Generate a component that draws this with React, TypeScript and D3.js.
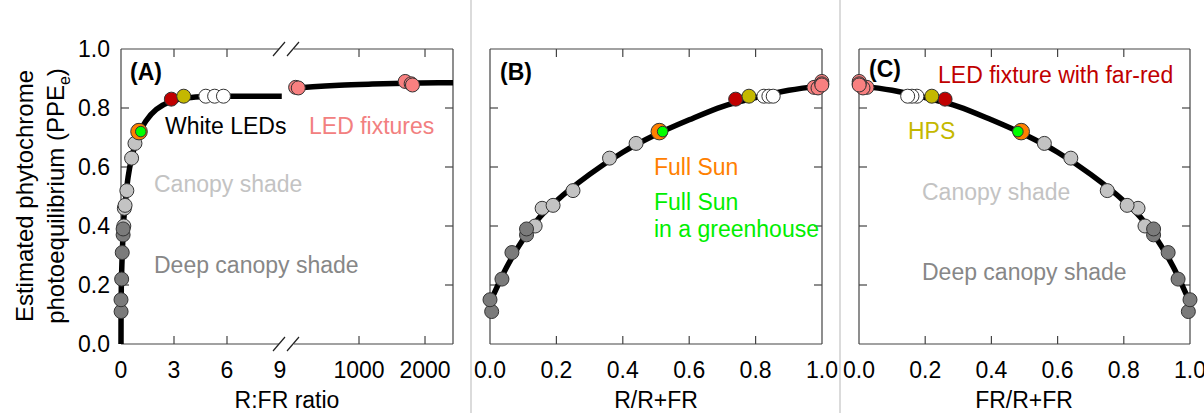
import React from "react";
import * as d3 from "d3";

// ---------- data ----------
// Light sources: PPE, R:FR ratio, R/(R+FR) fraction
const lightShadePPE = [0.40, 0.46, 0.47, 0.52, 0.63, 0.68];
const lightShadeRFR = [0.16, 0.19, 0.23, 0.33, 0.6, 0.79];
const lightShadeRfrac = [0.136, 0.157, 0.19, 0.25, 0.36, 0.44];

const deepShadePPE = [0.11, 0.15, 0.22, 0.31, 0.37, 0.39];
const deepShadeRFR = [0.005, 0.0, 0.037, 0.07, 0.12, 0.12];
const deepShadeRfrac = [0.005, 0.0, 0.036, 0.066, 0.11, 0.11];

const sunPPE = [0.72];
const sunRFR = [1.02];
const sunRfrac = [0.51];

const greenhousePPE = [0.72];
const greenhouseRFR = [1.12];
const greenhouseRfrac = [0.52];

const ledFixturePPE = [0.87, 0.868, 0.89, 0.882, 0.878];
const ledFixtureRFR = [40, 80, 1700, 1790, 1810];
const ledFixtureRfrac = [0.976, 0.988, 0.9994, 0.9995, 0.9995];

const whiteLedPPE = [0.84, 0.84, 0.84];
const whiteLedRFR = [4.8, 5.3, 5.8];
const whiteLedRfrac = [0.825, 0.84, 0.853];

const farRedPPE = [0.83];
const farRedRFR = [2.85];
const farRedRfrac = [0.74];

const hpsPPE = [0.84];
const hpsRFR = [3.55];
const hpsRfrac = [0.78];

// fitted curves
const curveALeftRFR = [0, 0.005, 0.02, 0.05, 0.1, 0.18, 0.28, 0.4, 0.6, 0.8, 1.0, 1.4, 2.0, 2.8, 3.6, 4.5, 6.0, 9.1];
const curveALeftPPE = [0, 0.12, 0.2, 0.27, 0.35, 0.44, 0.5, 0.565, 0.63, 0.675, 0.71, 0.755, 0.795, 0.822, 0.833, 0.838, 0.84, 0.84];
const curveARightRFR = [60, 300, 700, 1200, 1700, 2200, 2424];
const curveARightPPE = [0.868, 0.872, 0.877, 0.881, 0.884, 0.886, 0.886];
const curveBRfrac = [0, 0.05, 0.1, 0.15, 0.2, 0.3, 0.4, 0.5, 0.6, 0.7, 0.8, 0.9, 1.0];
const curveBPPE = [0.14, 0.26, 0.355, 0.43, 0.485, 0.575, 0.65, 0.71, 0.76, 0.805, 0.835, 0.86, 0.875];

const yTicks = [0, 0.2, 0.4, 0.6, 0.8, 1.0];
const fracTicks = [0, 0.2, 0.4, 0.6, 0.8, 1.0];
const rfrLeftTicks = [0, 3, 6, 9];
const rfrRightTicks = [1000, 2000];

// ---------- styles ----------
const FONT = "'Liberation Sans', Arial, Helvetica, sans-serif";
const FS = 23;
const frameColor = "#444";

type Group = {
  ppe: number[];
  rfr: number[];
  rfrac: number[];
  fill: string;
  r: number;
};

const groups: Group[] = [
  { ppe: lightShadePPE, rfr: lightShadeRFR, rfrac: lightShadeRfrac, fill: "#c3c3c3", r: 7 },
  { ppe: deepShadePPE, rfr: deepShadeRFR, rfrac: deepShadeRfrac, fill: "#7b7b7b", r: 7 },
  { ppe: sunPPE, rfr: sunRFR, rfrac: sunRfrac, fill: "#ff8000", r: 8.3 },
  { ppe: greenhousePPE, rfr: greenhouseRFR, rfrac: greenhouseRfrac, fill: "#00ff00", r: 5.3 },
  { ppe: ledFixturePPE, rfr: ledFixtureRFR, rfrac: ledFixtureRfrac, fill: "#f88080", r: 7 },
  { ppe: whiteLedPPE, rfr: whiteLedRFR, rfrac: whiteLedRfrac, fill: "#ffffff", r: 7 },
  { ppe: farRedPPE, rfr: farRedRFR, rfrac: farRedRfrac, fill: "#c00000", r: 7 },
  { ppe: hpsPPE, rfr: hpsRFR, rfrac: hpsRfrac, fill: "#c4b800", r: 7 },
];

// ---------- scales ----------
const top = 49;
const bottom = 344;
const y = d3.scaleLinear().domain([0, 1]).range([bottom, top]);

const axL = 121, axBreakL = 280, axBreakR = 293, axR = 453;
const xALeft = d3.scaleLinear().domain([0, 9]).range([axL, axBreakL]);
const xARight = d3.scaleLinear().domain([0, 2424]).range([axBreakR, axR]);
const xA = (v: number) => (v <= 9.5 ? xALeft(v) : xARight(v));

const bL = 490, bR = 822;
const xB = d3.scaleLinear().domain([0, 1]).range([bL, bR]);
const cL = 859, cR = 1190;
const xC = d3.scaleLinear().domain([0, 1]).range([cL, cR]);

const TICK = 8;

function Frame({ x0, x1, xs, broken }: { x0: number; x1: number; xs: number[]; broken?: boolean }) {
  const els: React.ReactNode[] = [];
  if (broken) {
    els.push(<line key="t1" x1={x0} x2={axBreakL - 1} y1={top} y2={top} />);
    els.push(<line key="t2" x1={axBreakR + 1} x2={x1} y1={top} y2={top} />);
    els.push(<line key="b1" x1={x0} x2={axBreakL - 1} y1={bottom} y2={bottom} />);
    els.push(<line key="b2" x1={axBreakR + 1} x2={x1} y1={bottom} y2={bottom} />);
  } else {
    els.push(<line key="t" x1={x0} x2={x1} y1={top} y2={top} />);
    els.push(<line key="b" x1={x0} x2={x1} y1={bottom} y2={bottom} />);
  }
  els.push(<line key="l" x1={x0} x2={x0} y1={top} y2={bottom} />);
  els.push(<line key="r" x1={x1} x2={x1} y1={top} y2={bottom} />);
  yTicks.slice(1, -1).forEach((t, i) => {
    els.push(<line key={"yl" + i} x1={x0} x2={x0 + TICK} y1={y(t)} y2={y(t)} />);
    els.push(<line key={"yr" + i} x1={x1} x2={x1 - TICK} y1={y(t)} y2={y(t)} />);
  });
  xs.forEach((xx, i) => {
    els.push(<line key={"xt" + i} x1={xx} x2={xx} y1={top} y2={top + TICK} />);
    els.push(<line key={"xb" + i} x1={xx} x2={xx} y1={bottom} y2={bottom - TICK} />);
  });
  if (broken) {
    [top, bottom].forEach((yy, j) => {
      [axBreakL - 1, axBreakR].forEach((cx, k) => {
        els.push(
          <line key={"br" + j + k} x1={cx - 6} x2={cx + 6} y1={yy + 7} y2={yy - 7} stroke="#222" />
        );
      });
    });
  }
  return (
    <g stroke={frameColor} strokeWidth={1.2} fill="none">
      {els}
    </g>
  );
}

function Points({ xf }: { xf: (g: Group, i: number) => number }) {
  return (
    <g>
      {groups.map((g, gi) =>
        g.ppe.map((p, i) => (
          <circle
            key={gi + "-" + i}
            cx={xf(g, i)}
            cy={y(p)}
            r={g.r}
            fill={g.fill}
            stroke="#333"
            strokeWidth={1}
          />
        ))
      )}
    </g>
  );
}

const T = (props: any) => (
  <text fontFamily={FONT} fontSize={FS} {...props} />
);

export default function App() {
  const lineA = d3
    .line<number>()
    .x((_, i) => xALeft(curveALeftRFR[i]))
    .y((d) => y(d))
    .curve(d3.curveCatmullRom.alpha(0.5));
  const lineARight = d3
    .line<number>()
    .x((_, i) => xARight(curveARightRFR[i]))
    .y((d) => y(d))
    .curve(d3.curveMonotoneX);
  const lineB = d3
    .line<number>()
    .x((_, i) => xB(curveBRfrac[i]))
    .y((d) => y(d))
    .curve(d3.curveMonotoneX);
  const cPts = curveBRfrac.map((f, i) => [1 - f, curveBPPE[i]] as [number, number]).reverse();
  const lineC = d3
    .line<[number, number]>()
    .x((d) => xC(d[0]))
    .y((d) => y(d[1]))
    .curve(d3.curveMonotoneX);

  const curveStyle = { fill: "none", stroke: "#000", strokeWidth: 5.5, strokeLinecap: "butt" as const };

  return (
    <svg
      width={1204}
      height={413}
      style={{ position: "absolute", left: 0, top: 0, background: "#fff" }}
    >
      <rect x={0} y={0} width={1204} height={413} fill="#fff" />
      {/* separators */}
      <line x1={471} x2={471} y1={0} y2={413} stroke="#cfcfcf" strokeWidth={1.5} />
      <line x1={840} x2={840} y1={0} y2={413} stroke="#cfcfcf" strokeWidth={1.5} />

      {/* y axis title */}
      <T transform="translate(33,196) rotate(-90)" textAnchor="middle" fontSize={24}>
        Estimated phytochrome
      </T>
      <T transform="translate(64,196) rotate(-90)" textAnchor="middle" fontSize={24}>
        photoequilibrium (PPE
        <tspan fontSize={16} dy={6}>e</tspan>
        <tspan dy={-6}>)</tspan>
      </T>

      {/* y tick labels */}
      {yTicks.map((t) => (
        <T key={t} x={110} y={y(t) + 8} textAnchor="end">
          {d3.format(".1f")(t)}
        </T>
      ))}

      {/* ---------- Panel A ---------- */}
      <Frame x0={axL} x1={axR} xs={[xALeft(3), xALeft(6), ...rfrRightTicks.map((t) => xARight(t))]} broken />
      <path d={lineA(curveALeftPPE) || ""} style={curveStyle} />
      <path d={lineARight(curveARightPPE) || ""} style={curveStyle} />
      <Points xf={(g, i) => xA(g.rfr[i])} />
      {rfrLeftTicks.map((t) => (
        <T key={"al" + t} x={xALeft(t)} y={378} textAnchor="middle">{t}</T>
      ))}
      {rfrRightTicks.map((t) => (
        <T key={"ar" + t} x={xARight(t)} y={378} textAnchor="middle">{t}</T>
      ))}
      <T x={287} y={408} textAnchor="middle">R:FR ratio</T>
      <T x={130} y={80} fontWeight="bold">(A)</T>
      <T x={165} y={134} fill="#000">White LEDs</T>
      <T x={309} y={134} fill="#f28080">LED fixtures</T>
      <T x={154} y={192} fill="#c3c3c3">Canopy shade</T>
      <T x={154} y={273} fill="#878787">Deep canopy shade</T>

      {/* ---------- Panel B ---------- */}
      <Frame x0={bL} x1={bR} xs={fracTicks.slice(1, -1).map((t) => xB(t))} />
      <path d={lineB(curveBPPE) || ""} style={curveStyle} />
      <Points xf={(g, i) => xB(g.rfrac[i])} />
      {fracTicks.map((t) => (
        <T key={"b" + t} x={xB(t)} y={378} textAnchor="middle">{d3.format(".1f")(t)}</T>
      ))}
      <T x={656} y={408} textAnchor="middle">R/R+FR</T>
      <T x={500} y={80} fontWeight="bold">(B)</T>
      <T x={654} y={175} fill="#ff8000">Full Sun</T>
      <T x={654} y={210} fill="#00ee00">Full Sun</T>
      <T x={654} y={237} fill="#00ee00">in a greenhouse</T>

      {/* ---------- Panel C ---------- */}
      <Frame x0={cL} x1={cR} xs={fracTicks.slice(1, -1).map((t) => xC(t))} />
      <path d={lineC(cPts) || ""} style={curveStyle} />
      <Points xf={(g, i) => xC(1 - g.rfrac[i])} />
      {fracTicks.map((t) => (
        <T key={"c" + t} x={xC(t)} y={378} textAnchor="middle">{d3.format(".1f")(t)}</T>
      ))}
      <T x={1024} y={408} textAnchor="middle">FR/R+FR</T>
      <T x={869} y={77} fontWeight="bold">(C)</T>
      <T x={938} y={83} fill="#c00000">LED fixture with far-red</T>
      <T x={908} y={139} fill="#c4b800">HPS</T>
      <T x={922} y={200} fill="#c3c3c3">Canopy shade</T>
      <T x={922} y={280} fill="#878787">Deep canopy shade</T>
    </svg>
  );
}
